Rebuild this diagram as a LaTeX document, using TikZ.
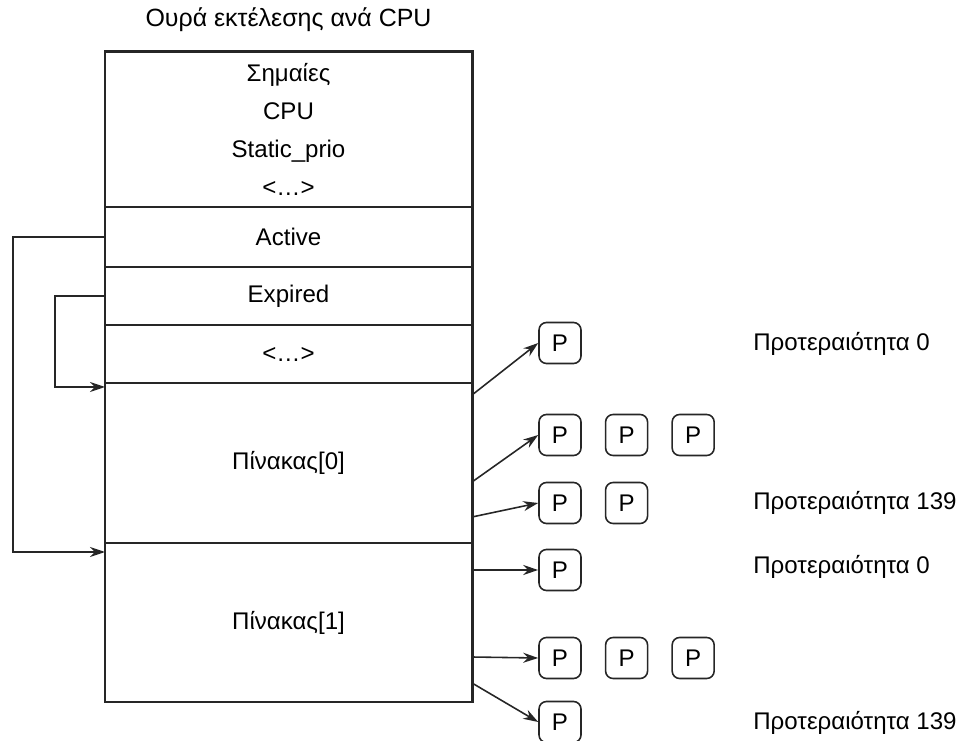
\documentclass[tikz,border=0pt]{standalone}
\usepackage{fontspec}
\setmainfont{Liberation Sans}
\usetikzlibrary{arrows.meta,positioning}

\begin{document}
\begin{tikzpicture}[x=1cm,y=1cm,>={Stealth[length=3mm,width=2mm]},
  font=\fontsize{13.7}{21.6}\selectfont,
  cell/.style={draw=black!85,line width=1.1pt,minimum width=7.34cm,inner sep=0pt,outer sep=0pt,align=center},
  pbox/.style={draw=black!85,line width=0.9pt,rounded corners=1.5mm,minimum width=0.84cm,minimum height=0.82cm,inner sep=0pt},
  conn/.style={draw=black!85,line width=0.9pt},
  prio/.style={anchor=base west,inner sep=0pt}]
  \useasboundingbox (0,0) rectangle (19.26,-14.82);

  % --- title ---
  \node[anchor=base,font=\fontsize{14.2}{17}\selectfont] (title) at (5.77,-0.54) {Ουρά εκτέλεσης ανά CPU};

  % --- run queue fields ---
  \node[cell,anchor=north west,minimum height=3.10cm] (flags) at (2.10,-1.04)
        {Σημαίες\\CPU\\Static\_prio\\<…>};
  \node[cell,below=0pt of flags,minimum height=1.20cm] (active) {Active};
  \node[cell,below=0pt of active,minimum height=1.16cm] (expired) {Expired};
  \node[cell,below=0pt of expired,minimum height=1.16cm] (dots) {<…>};
  \node[cell,below=0pt of dots,minimum height=3.20cm] (arr0) {Πίνακας[0]};
  \node[cell,below=0pt of arr0,minimum height=3.18cm] (arr1) {Πίνακας[1]};
  \draw[line width=1.7pt,black!85] (flags.north west) rectangle (arr1.south east);

  % --- active / expired pointers ---
  \draw[conn,->] (active.west) -- ++(-1.84,0) |- ([yshift=-0.18cm]arr1.north west);
  \draw[conn,->] (expired.west) -- ++(-1.00,0) |- ([yshift=-0.08cm]arr0.north west);

  % --- process lists ---
  \node[pbox] (p0a) at (11.20,-6.86) {P};
  \node[pbox] (p1a) at (11.20,-8.70) {P};
  \node[pbox,right=0.46cm of p1a] (p1b) {P};
  \node[pbox,right=0.46cm of p1b] (p1c) {P};
  \node[pbox] (p2a) at (11.20,-10.06) {P};
  \node[pbox,right=0.46cm of p2a] (p2b) {P};
  \node[pbox] (p3a) at (11.20,-11.40) {P};
  \node[pbox] (p4a) at (11.20,-13.16) {P};
  \node[pbox,right=0.46cm of p4a] (p4b) {P};
  \node[pbox,right=0.46cm of p4b] (p4c) {P};
  \node[pbox] (p5a) at (11.20,-14.44) {P};

  % --- list heads on the array side ---
  \coordinate (s0) at ([yshift=-0.24cm]arr0.north east);
  \coordinate (s1) at ([yshift=-1.98cm]arr0.north east);
  \coordinate (s2) at ([yshift=-2.68cm]arr0.north east);
  \coordinate (s3) at ([yshift=-0.54cm]arr1.north east);
  \coordinate (s4) at ([yshift=-2.28cm]arr1.north east);
  \coordinate (s5) at ([yshift=-2.80cm]arr1.north east);

  \foreach \s/\p in {s0/p0a,s1/p1a,s2/p2a,s3/p3a,s4/p4a,s5/p5a}{
    \draw[conn,->] (\s) -- (\p.west);
  }

  % --- priorities ---
  \node[prio] (prio0a) at (15.06,-7.02) {Προτεραιότητα 0};
  \node[prio] (prio0b) at (15.06,-10.20) {Προτεραιότητα 139};
  \node[prio] (prio1a) at (15.06,-11.46) {Προτεραιότητα 0};
  \node[prio] (prio1b) at (15.06,-14.58) {Προτεραιότητα 139};
\end{tikzpicture}
\end{document}
